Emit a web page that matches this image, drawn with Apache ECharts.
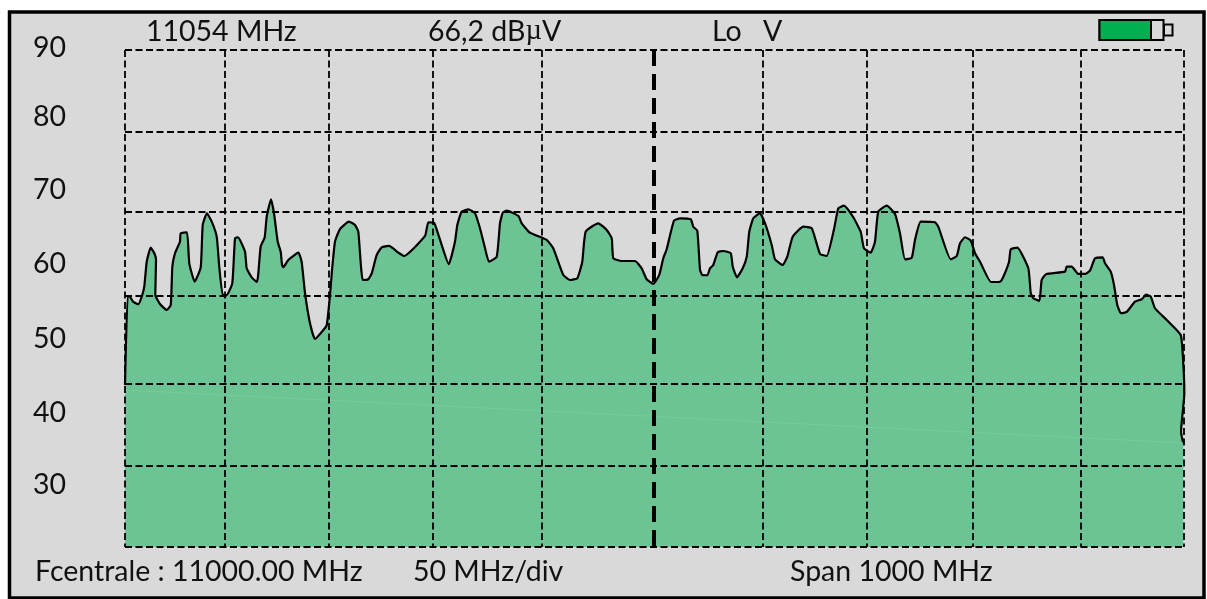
<!DOCTYPE html>
<html>
<head>
<meta charset="utf-8">
<style>html,body{margin:0;padding:0;background:#fff}#chart{width:1207px;height:599px}</style>
<script src="https://cdn.jsdelivr.net/npm/echarts@6/dist/echarts.min.js"></script>
</head>
<body>
<div id="chart"></div>
<script>
var freq = [10500,10502.5,10504.7,10507.6,10512.6,10515.8,10518.2,10520.5,10524.3,10527.7,10529.3,10528.6,10533,10539.4,10543.2,10544.7,10547.2,10551.9,10552.6,10558.5,10560.7,10565.8,10571.5,10573.4,10577.4,10581.9,10586.6,10589,10592.3,10596,10601.3,10603.9,10606.7,10613.3,10614.9,10619.6,10624.6,10625.9,10628.1,10631.9,10633.8,10637.9,10640.7,10644.2,10647,10648.3,10649.5,10654.2,10663.7,10666.8,10670,10674.7,10679.4,10687.3,10690.5,10693.6,10695.5,10698.3,10703,10711.5,10717.2,10720.3,10724.5,10729.7,10733,10737.7,10742.4,10749.3,10758.1,10763.5,10783.3,10786.4,10791.8,10797.5,10805.7,10811.6,10813.8,10817.9,10824.2,10830.5,10835.2,10840,10843.7,10851,10854.1,10856.7,10860.4,10871.4,10874.6,10882.4,10898.2,10904.4,10913.9,10920.2,10927.1,10931.8,10935,10946.9,10954.9,10959.6,10961.1,10969,10981.6,10987.9,10992.6,10998.9,11004.5,11008.3,11011.5,11018.4,11024.1,11034.2,11036.6,11040.4,11043,11045.1,11049.9,11052.4,11055.5,11059.7,11065,11072,11073.9,11077.9,11083.3,11087.1,11089.5,11093.3,11099.6,11104.4,11110.7,11113.8,11121.1,11125.4,11130.5,11140.5,11148.5,11156.3,11162.6,11169.5,11173.6,11178.9,11187.7,11194.7,11197.8,11204.1,11208.2,11211.3,11219.3,11227.1,11231.8,11236.6,11242.9,11246,11251.4,11264.9,11268,11279.7,11285.4,11288.5,11293.2,11298.6,11302.7,11307.4,11317.8,11326.3,11329.4,11334.8,11336.4,11342.6,11353,11355.3,11357.7,11363.4,11365.6,11369.7,11387.6,11389.2,11393.9,11400.2,11406.5,11411.2,11416,11423.2,11425.4,11430.8,11433.9,11437,11440.5,11445.9,11453.7,11460.1,11464.1,11468.6,11472.6,11483.7,11496.9,11499.3,11500.3,11497.2,11499.3];
var level = [43.8,56.07,55.98,55.29,54.93,55.98,57.36,60.8,62.73,61.96,61.04,56.21,54.97,54.14,54.83,60.11,61.96,63.56,64.72,64.86,60.58,58.04,60.03,65.87,67.48,66.32,64.25,60.11,56.21,56.21,57.82,64.03,64.17,62.19,59.89,58.65,58,59.2,62.87,64.17,67,69.4,67.48,63.56,62.19,60.35,60.03,61.04,62.05,60.8,56.45,52.31,50.14,51.38,52.07,56.21,59.66,63.56,65.31,66.32,65.87,64.94,58.28,58.38,59.2,61.73,62.79,62.97,62.05,61.59,64.35,66.24,66.18,63.8,60.45,63.56,65.87,67.7,68.03,67.48,65.41,62.65,60.8,61.49,66.1,67.56,67.84,67.11,66.1,64.8,63.8,62.65,58.97,58.28,58.51,60.8,64.94,66.1,65.18,64.03,61.28,60.9,60.9,59.89,58.38,57.73,58.97,61.28,62.52,66.46,66.79,66.65,65.63,65.08,59.66,58.97,58.93,59.89,60.35,62.1,62.28,61.96,60.11,58.65,59.89,61.49,64.94,66.79,67.48,66.1,63.11,61.13,60.35,61.49,64.25,65.63,65.41,61.87,61.59,65.27,68.17,68.53,66.93,64.94,62.65,62.05,63.56,67.7,68.53,67.38,64.72,61.13,61.35,63.8,66.32,66.24,65.63,61.13,61.59,63.34,64.17,63.7,61.96,60.8,58,58.04,58.73,60.8,62.51,62.74,59.89,56.45,55.76,55.38,58.28,59.07,59.43,60.12,60.12,59.11,59.11,59.56,61.27,61.41,60.58,59.43,57.59,54.83,53.69,53.87,55.29,55.62,56.25,55.98,54.38,52.76,50.69,46.79,42.65,37.36,35.76];

// the scale of the instrument: divisions are not evenly spaced in the source
var gridFreq = [10500,10594.4,10692.6,10790.8,10893.8,11102.5,11200.7,11300.8,11402.8,11500];
var centerFreq = [10999.5];
var gridLevel = [90,78.69,67.66,56.07,43.93,32.62,21.45];
var yTickPos = [90.28,80.8,70.69,60.49,50.14,39.93,30];
var yTickLabels = ['90','80','70','60','50','40','30'];
var streakFreq = [10500,11500];
var streakLevel = [43.1,35.8];

var font = 'Lato';
var fs = 28.5;
function txt(x, y, s){
    return {type:'text', x:x, y:y, z:20, style:{
        text:s, fontFamily:font, fontSize:fs, fill:'#111', verticalAlign:'middle',
        rich:{m:{fontFamily:'Liberation Serif', fontSize:fs, fill:'#111'}}
    }};
}
function pairs(a, b){
    return a.map(function(v, i){ return [v, b[i]]; });
}
function vline(v){
    return [{coord:[v, 90]}, {coord:[v, 21.45]}];
}
function hline(v){
    return [{coord:[10500, v]}, {coord:[11500, v]}];
}

var chart = echarts.init(document.getElementById('chart'), null, {renderer:'canvas'});
chart.setOption({
    animation: false,
    backgroundColor: '#fff',
    grid: {left:125, top:35.5, width:1059, height:511.5},
    xAxis: {type:'value', min:10500, max:11500, show:false},
    yAxis: {
        type: 'value', min:21.45, max:92,
        axisLine: {show:false},
        axisTick: {show:false},
        splitLine: {show:false},
        axisLabel: {
            customValues: yTickPos,
            margin: 59,
            fontFamily: font,
            fontSize: fs,
            color: '#111',
            formatter: function(v){ return yTickLabels[yTickPos.indexOf(v)]; }
        }
    },
    series: [
        {
            type: 'line',
            data: pairs(freq, level),
            showSymbol: false,
            clip: false,
            silent: true,
            smooth: 0.15,
            z: 3,
            lineStyle: {color:'#000', width:2.2},
            areaStyle: {color:'#6cc495', opacity:1, origin:'start'}
        },
        {
            type: 'line',
            data: pairs(streakFreq, streakLevel),
            showSymbol: false,
            silent: true,
            z: 4,
            lineStyle: {color:'#78ca9c', width:1}
        },
        {
            type: 'line',
            data: [],
            silent: true,
            z: 5,
            markLine: {
                silent: true,
                symbol: 'none',
                label: {show:false},
                lineStyle: {color:'#000', width:1.8, type:[7,3.5], opacity:1},
                data: gridFreq.map(vline).concat(gridLevel.map(hline))
            }
        },
        {
            type: 'line',
            data: [],
            silent: true,
            z: 6,
            markLine: {
                silent: true,
                symbol: 'none',
                label: {show:false},
                lineStyle: {color:'#000', width:4, type:[16,8], opacity:1},
                data: centerFreq.map(vline)
            }
        }
    ],
    graphic: [
        {type:'rect', z:-10, silent:true, shape:{x:9.5, y:12, width:1194.5, height:586}, style:{fill:'#d9d9d9', stroke:'#000', lineWidth:3.5}},
        txt(146, 32, '11054 MHz'),
        txt(428, 32, '66,2 dB{m|\u00b5}V'),
        txt(712, 32, 'Lo'),
        txt(763, 32, 'V'),
        txt(35, 572, 'Fcentrale : 11000.00 MHz'),
        txt(413, 572, '50 MHz/div'),
        txt(790, 572, 'Span 1000 MHz'),
        {type:'rect', z:20, shape:{x:1099.5, y:20, width:64, height:20}, style:{fill:'#d9d9d9', stroke:'#000', lineWidth:2}},
        {type:'rect', z:21, shape:{x:1099.5, y:20, width:51.5, height:20}, style:{fill:'#00b050', stroke:'#000', lineWidth:2}},
        {type:'rect', z:20, shape:{x:1164, y:24.5, width:8.5, height:11}, style:{fill:'#d9d9d9', stroke:'#000', lineWidth:2}}
    ]
});
</script>
</body>
</html>
